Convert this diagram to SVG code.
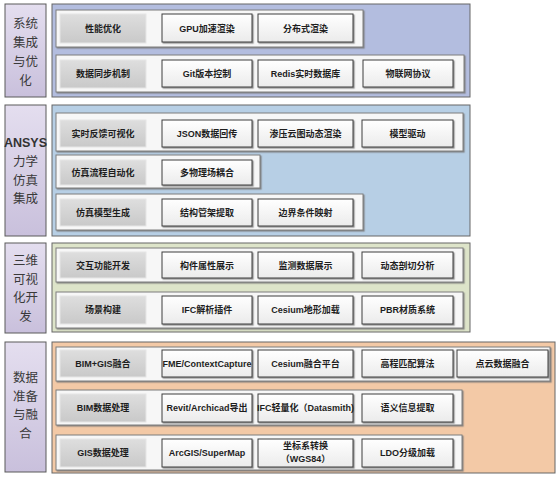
<svg xmlns="http://www.w3.org/2000/svg" width="559" height="478" viewBox="0 0 559 478">
<defs>
<linearGradient id="gLav" x1="0" y1="0" x2="0" y2="1"><stop offset="0" stop-color="#e4deef"/><stop offset="1" stop-color="#c9c0dc"/></linearGradient>
<linearGradient id="gGrey" x1="0" y1="0" x2="0" y2="1"><stop offset="0" stop-color="#dedede"/><stop offset="1" stop-color="#c9c9c9"/></linearGradient>
<linearGradient id="gBtn" x1="0" y1="0" x2="0" y2="1"><stop offset="0" stop-color="#ffffff"/><stop offset="1" stop-color="#ebebeb"/></linearGradient>
<filter id="sh" x="-10%" y="-10%" width="120%" height="130%"><feDropShadow dx="1.2" dy="1.2" stdDeviation="0.4" flood-color="#777" flood-opacity="0.8"/></filter>
</defs>
<style>
.side{fill:url(#gLav);stroke:#5a5a5a;stroke-width:1}
.panel{stroke:#666;stroke-width:1}
.p1{fill:#b3bddf}.p2{fill:#b7cfe5}.p3{fill:#dde4c9}.p4{fill:#f3c9a6}
.row{fill:#f7f7f7;stroke:#7d7d7d;stroke-width:1;filter:url(#sh)}
.lab{fill:url(#gGrey);stroke:#e6e6e6;stroke-width:1}
.btn{fill:url(#gBtn);stroke:#3c3c3c;stroke-width:1;filter:url(#sh)}
.st{font-family:"Noto Sans CJK SC","Noto Sans CJK JP",sans-serif;font-size:12.5px;fill:#3a3a3a;text-anchor:middle}
.sa{font-family:"Liberation Sans","Noto Sans CJK SC",sans-serif;font-size:12.5px;font-weight:bold;fill:#333;text-anchor:middle}
.t{font-family:"Liberation Sans","Noto Sans CJK SC",sans-serif;font-size:9px;font-weight:bold;fill:#1e1e1e;text-anchor:middle}
</style>

<!-- Section 1 -->
<g id="sec1">
<rect class="side" x="5" y="4" width="41" height="93"/>
<text class="st"><tspan x="25.5" y="27.5">系统</tspan><tspan x="25.5" y="46.5">集成</tspan><tspan x="25.5" y="65.5">与优</tspan><tspan x="25.5" y="84.5">化</tspan></text>
<rect class="panel p1" x="52" y="4" width="418" height="93"/>
</g>
<g id="s1r1">
<rect class="row" x="56" y="10" width="307" height="37"/>
<rect class="lab" x="60" y="14" width="86" height="29"/><text class="t" x="103" y="31.5">性能优化</text>
<rect class="btn" x="162" y="14" width="90" height="28"/><text class="t" x="207" y="31.5">GPU加速渲染</text>
<rect class="btn" x="258" y="14" width="95" height="28"/><text class="t" x="305.5" y="31.5">分布式渲染</text>
</g>
<g id="s1r2">
<rect class="row" x="56" y="55" width="408" height="37"/>
<rect class="lab" x="60" y="60" width="86" height="28"/><text class="t" x="103" y="77">数据同步机制</text>
<rect class="btn" x="162" y="60" width="90" height="27"/><text class="t" x="207" y="77">Git版本控制</text>
<rect class="btn" x="258" y="60" width="95" height="27"/><text class="t" x="305.5" y="77">Redis实时数据库</text>
<rect class="btn" x="363" y="60" width="90" height="27"/><text class="t" x="408" y="77">物联网协议</text>
</g>

<!-- Section 2 -->
<g id="sec2">
<rect class="side" x="5" y="105" width="41" height="131"/>
<text class="sa" x="25.5" y="147">ANSYS</text>
<text class="st"><tspan x="25.5" y="166">力学</tspan><tspan x="25.5" y="184.5">仿真</tspan><tspan x="25.5" y="203">集成</tspan></text>
<rect class="panel p2" x="52" y="105" width="418" height="131"/>
</g>
<g id="s2r1">
<rect class="row" x="56" y="113" width="407" height="38"/>
<rect class="lab" x="60" y="120" width="86" height="27"/><text class="t" x="103" y="137">实时反馈可视化</text>
<rect class="btn" x="162" y="120" width="90" height="27"/><text class="t" x="207" y="137">JSON数据回传</text>
<rect class="btn" x="258" y="120" width="95" height="27"/><text class="t" x="305.5" y="137">渗压云图动态渲染</text>
<rect class="btn" x="362" y="120" width="91" height="27"/><text class="t" x="407.5" y="137">模型驱动</text>
</g>
<g id="s2r2">
<rect class="row" x="56" y="155" width="204" height="33"/>
<rect class="lab" x="60" y="160" width="86" height="25"/><text class="t" x="103" y="176">仿真流程自动化</text>
<rect class="btn" x="162" y="160" width="90" height="25"/><text class="t" x="207" y="176">多物理场耦合</text>
</g>
<g id="s2r3">
<rect class="row" x="56" y="194" width="307" height="36"/>
<rect class="lab" x="60" y="199" width="86" height="27"/><text class="t" x="103" y="216">仿真模型生成</text>
<rect class="btn" x="162" y="199" width="90" height="27"/><text class="t" x="207" y="216">结构管架提取</text>
<rect class="btn" x="258" y="199" width="95" height="27"/><text class="t" x="305.5" y="216">边界条件映射</text>
</g>

<!-- Section 3 -->
<g id="sec3">
<rect class="side" x="5" y="243" width="41" height="90"/>
<text class="st"><tspan x="25.5" y="265">三维</tspan><tspan x="25.5" y="283.5">可视</tspan><tspan x="25.5" y="302">化开</tspan><tspan x="25.5" y="320.5">发</tspan></text>
<rect class="panel p3" x="52" y="243" width="418" height="89"/>
</g>
<g id="s3r1">
<rect class="row" x="56" y="248" width="407" height="34"/>
<rect class="lab" x="60" y="252" width="86" height="26"/><text class="t" x="103" y="268.5">交互功能开发</text>
<rect class="btn" x="162" y="252" width="90" height="26"/><text class="t" x="207" y="268.5">构件属性展示</text>
<rect class="btn" x="258" y="252" width="95" height="26"/><text class="t" x="305.5" y="268.5">监测数据展示</text>
<rect class="btn" x="362" y="252" width="91" height="26"/><text class="t" x="407.5" y="268.5">动态剖切分析</text>
</g>
<g id="s3r2">
<rect class="row" x="56" y="292" width="407" height="36"/>
<rect class="lab" x="60" y="296" width="86" height="28"/><text class="t" x="103" y="313">场景构建</text>
<rect class="btn" x="162" y="296" width="90" height="28"/><text class="t" x="207" y="313">IFC解析插件</text>
<rect class="btn" x="258" y="296" width="95" height="28"/><text class="t" x="305.5" y="313">Cesium地形加载</text>
<rect class="btn" x="362" y="296" width="91" height="28"/><text class="t" x="407.5" y="313">PBR材质系统</text>
</g>

<!-- Section 4 -->
<g id="sec4">
<rect class="side" x="5" y="342" width="41" height="130"/>
<text class="st"><tspan x="25.5" y="382">数据</tspan><tspan x="25.5" y="400.5">准备</tspan><tspan x="25.5" y="419">与融</tspan><tspan x="25.5" y="437.5">合</tspan></text>
<rect class="panel p4" x="52" y="342" width="503" height="131"/>
</g>
<g id="s4r1">
<rect class="row" x="56" y="347" width="494" height="34"/>
<rect class="lab" x="60" y="350" width="86" height="27"/><text class="t" x="103" y="367">BIM+GIS融合</text>
<rect class="btn" x="162" y="350" width="90" height="27"/><text class="t" x="207" y="367">FME/ContextCapture</text>
<rect class="btn" x="258" y="350" width="95" height="27"/><text class="t" x="305.5" y="367">Cesium融合平台</text>
<rect class="btn" x="362" y="350" width="91" height="27"/><text class="t" x="407.5" y="367">高程匹配算法</text>
<rect class="btn" x="457" y="350" width="91" height="27"/><text class="t" x="502.5" y="367">点云数据融合</text>
</g>
<g id="s4r2">
<rect class="row" x="56" y="390" width="406" height="35"/>
<rect class="lab" x="60" y="394" width="86" height="28"/><text class="t" x="103" y="411">BIM数据处理</text>
<rect class="btn" x="162" y="394" width="90" height="28"/><text class="t" x="207" y="411">Revit/Archicad导出</text>
<rect class="btn" x="258" y="394" width="95" height="28"/><text class="t" x="305.5" y="411">IFC轻量化（Datasmith)</text>
<rect class="btn" x="362" y="394" width="91" height="28"/><text class="t" x="407.5" y="411">语义信息提取</text>
</g>
<g id="s4r3">
<rect class="row" x="56" y="435" width="406" height="35"/>
<rect class="lab" x="60" y="439" width="86" height="28"/><text class="t" x="103" y="456">GIS数据处理</text>
<rect class="btn" x="162" y="439" width="90" height="28"/><text class="t" x="207" y="456">ArcGIS/SuperMap</text>
<rect class="btn" x="258" y="439" width="95" height="28"/><text class="t"><tspan x="305.5" y="449">坐标系转换</tspan><tspan x="305.5" y="462">（WGS84）</tspan></text>
<rect class="btn" x="362" y="439" width="91" height="28"/><text class="t" x="407.5" y="456">LDO分级加载</text>
</g>
<g id="connectors"/>
</svg>
